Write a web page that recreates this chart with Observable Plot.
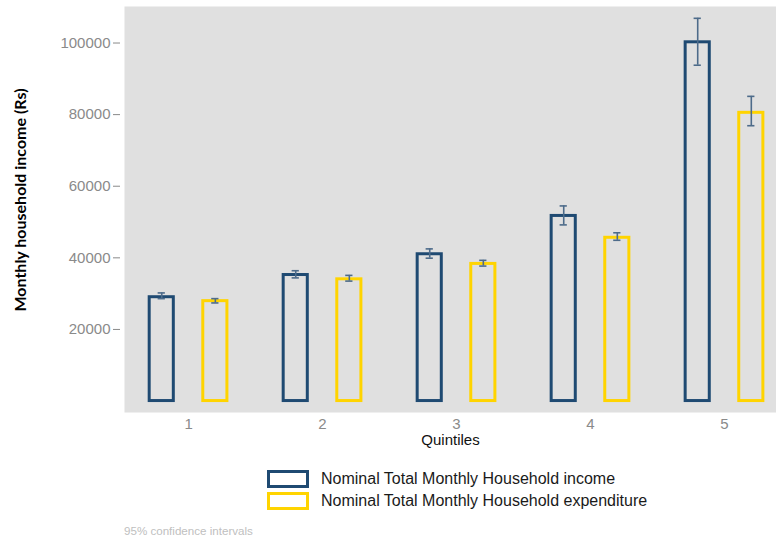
<!DOCTYPE html>
<html>
<head>
<meta charset="utf-8">
<script src="https://cdn.jsdelivr.net/npm/d3@7"></script>
<script src="https://cdn.jsdelivr.net/npm/@observablehq/plot@0.6"></script>
<style>
  html, body { margin: 0; padding: 0; background: #fff; }
  #wrap { position: relative; width: 776px; height: 540px; font-family: "Liberation Sans", Arial, sans-serif; }
  .legend { position: absolute; left: 267px; top: 468px; }
  .row { display: flex; align-items: center; height: 22px; font-size: 16px; color: #1a1a1a; }
  .sw { width: 36px; height: 12px; border: 3px solid; margin-right: 12px; box-sizing: content-box; }
  .cap { position: absolute; left: 124px; top: 524px; font-size: 11.6px; color: #c0c0c0; }
</style>
</head>
<body>
<div id="wrap">
  <div id="chart"></div>
  <div class="legend">
    <div class="row"><div class="sw" style="border-color:#1f4a72"></div><span>Nominal Total Monthly Household income</span></div>
    <div class="row"><div class="sw" style="border-color:#ffd400"></div><span>Nominal Total Monthly Household expenditure</span></div>
  </div>
  <div class="cap">95% confidence intervals</div>
</div>
<script>
const quintiles = [1, 2, 3, 4, 5];
const incomeMean = [29000, 35200, 41000, 51700, 100200];
const incomeLow  = [28600, 34400, 39900, 49200, 93800];
const incomeHigh = [30200, 36400, 42500, 54500, 106900];
const expMean = [27900, 34000, 38300, 45600, 80500];
const expLow  = [27400, 33500, 37700, 44900, 76900];
const expHigh = [28600, 35100, 39300, 47000, 85100];
const yTicks = [20000, 40000, 60000, 80000, 100000];

const seriesColor = {income: "#1f4a72", expenditure: "#ffd400"};
const offset = {income: -0.2, expenditure: 0.2};
const halfW = 0.09;
const capW = 0.027;

const rows = [];
quintiles.forEach((q, i) => {
  rows.push({q, series: "income", mean: incomeMean[i], lo: incomeLow[i], hi: incomeHigh[i]});
  rows.push({q, series: "expenditure", mean: expMean[i], lo: expLow[i], hi: expHigh[i]});
});
rows.forEach(d => { d.cx = d.q + offset[d.series]; });

const plot = Plot.plot({
  width: 776,
  height: 455,
  marginTop: 6,
  marginBottom: 43,
  marginLeft: 124,
  marginRight: 0,
  style: {fontFamily: "Liberation Sans, Arial, sans-serif", fontSize: "15px", background: "#fff"},
  x: {type: "linear", domain: [0.522, 5.388]},
  y: {domain: [-3200, 110200]},
  marks: [
    Plot.frame({fill: "#e0e0e0", stroke: "none"}),
    Plot.rect(rows, {
      x1: d => d.cx - halfW, x2: d => d.cx + halfW,
      y1: 0, y2: "mean",
      fill: "none", stroke: d => seriesColor[d.series], strokeWidth: 3
    }),
    Plot.ruleX(rows, {x: "cx", y1: "lo", y2: "hi", stroke: "#4d6b8a", strokeWidth: 1.6}),
    Plot.ruleY(rows, {y: "hi", x1: d => d.cx - capW, x2: d => d.cx + capW, stroke: "#4d6b8a", strokeWidth: 1.6}),
    Plot.ruleY(rows, {y: "lo", x1: d => d.cx - capW, x2: d => d.cx + capW, stroke: "#4d6b8a", strokeWidth: 1.6}),
    Plot.axisY({ticks: yTicks, tickFormat: d => String(d), tickSize: 7, tickPadding: 3, dx: -4, color: "#8a8a8a", fontSize: 15, label: null}),
    Plot.axisX({ticks: quintiles, tickFormat: d => String(d), tickSize: 0, tickPadding: 6, color: "#8a8a8a", fontSize: 15, label: null}),
    Plot.text(["Quintiles"], {frameAnchor: "bottom", dy: 32, fill: "#111", fontSize: 15})
  ]
});
document.getElementById("chart").appendChild(plot);

d3.select(plot).append("text")
  .attr("transform", "translate(22,200) rotate(-90)")
  .attr("text-anchor", "middle")
  .attr("dominant-baseline", "middle")
  .style("font-family", "Lato, 'Open Sans', sans-serif")
  .style("font-weight", "bold")
  .style("font-size", "16px")
  .attr("fill", "#000")
  .text("Monthly household income (Rs)");
</script>
</body>
</html>
